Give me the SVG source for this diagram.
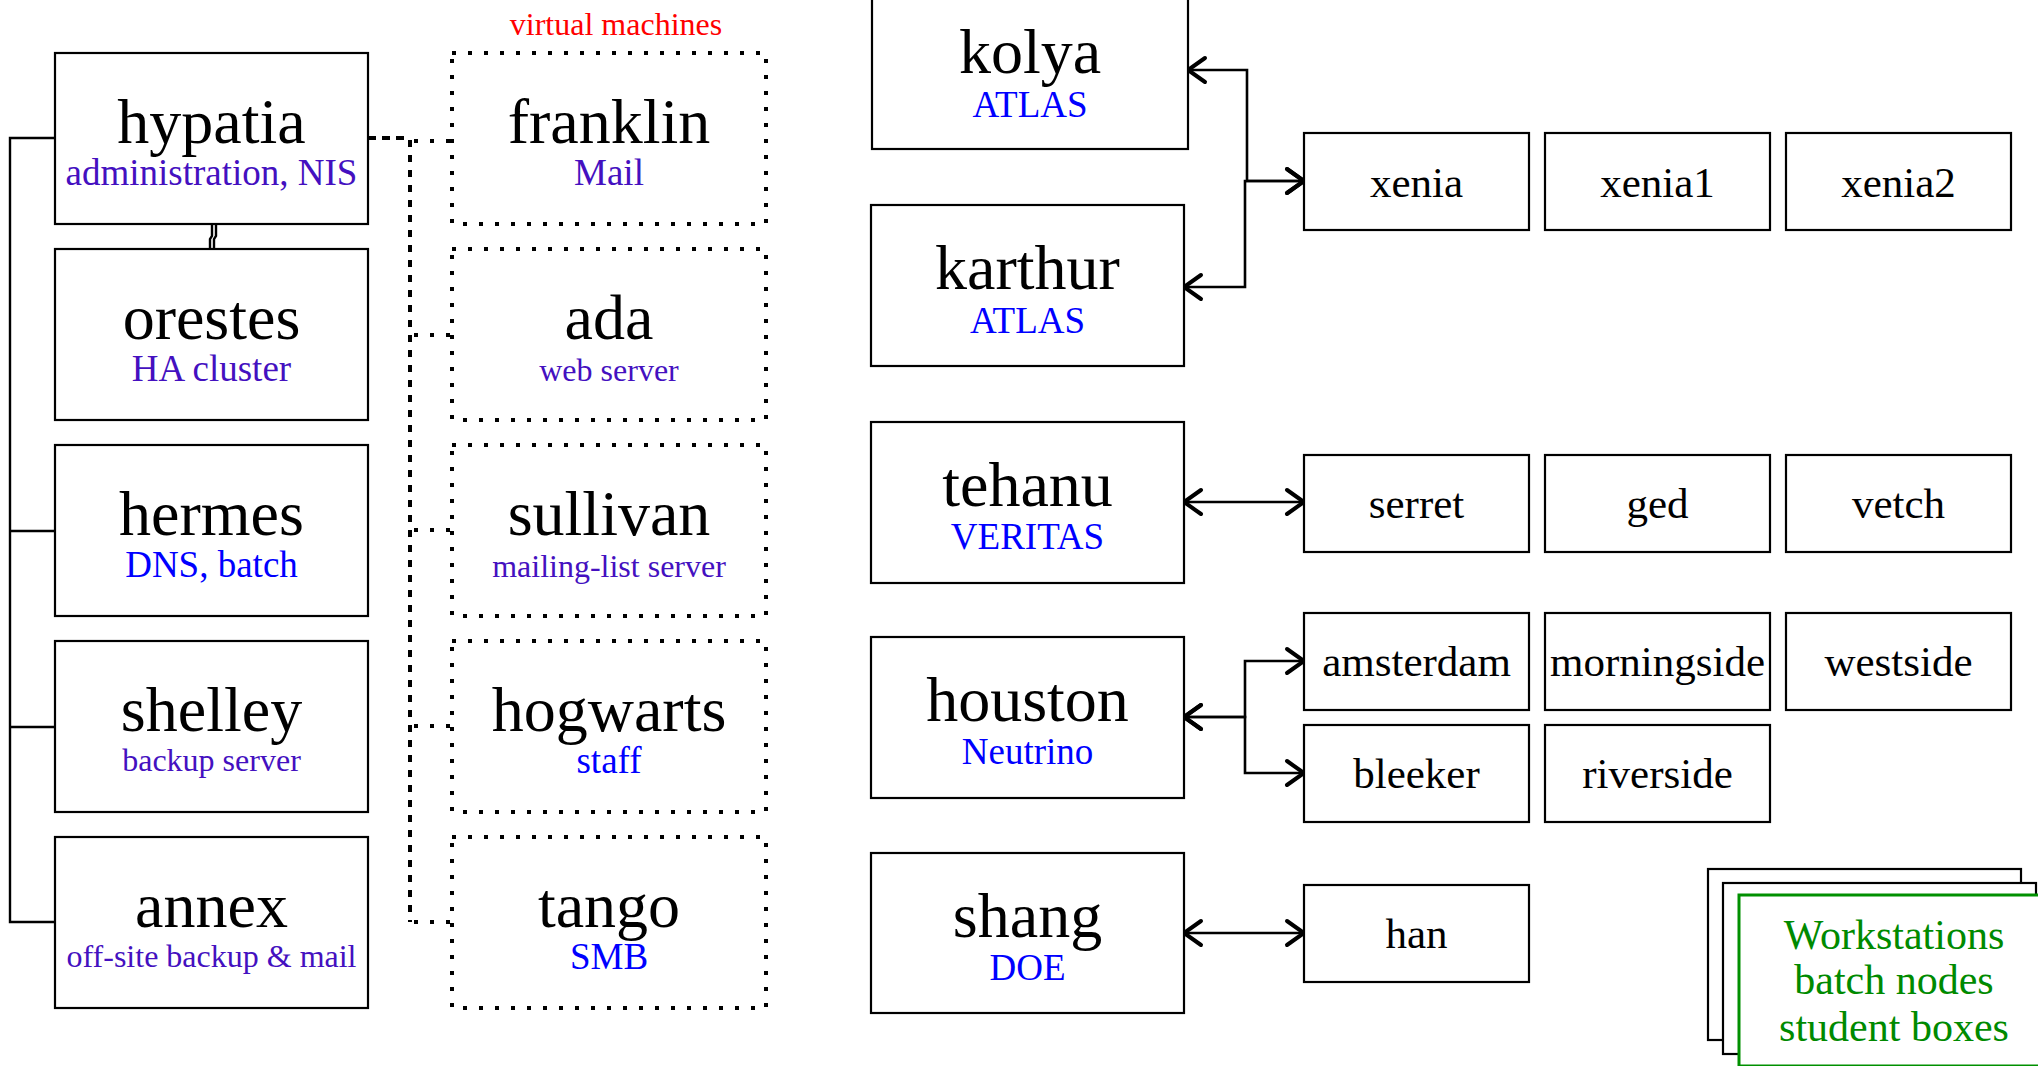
<svg xmlns="http://www.w3.org/2000/svg" width="2038" height="1066" viewBox="0 0 2038 1066">
<style>
text{font-family:"Liberation Serif","Times New Roman",serif;text-anchor:middle}
.box{fill:#fff;stroke:#000;stroke-width:2.2}
.vm{fill:#fff;stroke:#000;stroke-width:4;stroke-dasharray:4 12}
.nm{font-size:64px;fill:#000}
.sm{font-size:43px;fill:#000}
.sb{font-size:37px}
.ss{font-size:32px}
.pu{fill:#4410c0}
.bl{fill:#0000ff}
.gr{font-size:42px;fill:#008a00}
.wire{fill:none;stroke:#000;stroke-width:2.4}
.arr{fill:none;stroke:#000;stroke-width:2.6;marker-start:url(#ah);marker-end:url(#ah)}
.dash{fill:none;stroke:#000;stroke-width:4}
</style>
<defs>
<marker id="ah" markerUnits="userSpaceOnUse" viewBox="-22 -15 24 30" refX="0" refY="0" markerWidth="24" markerHeight="30" orient="auto-start-reverse" overflow="visible">
<path d="M-17,-12 L0,0 L-17,12" fill="none" stroke="#000" stroke-width="4" stroke-linecap="round" stroke-linejoin="miter"/>
</marker>
</defs>
<rect width="2038" height="1066" fill="#fff"/>

<g id="connectors">
<path class="wire" d="M55,138 H10 V922 H55 M10,531 H55 M10,727 H55"/>
<path class="wire" stroke-width="1.6" d="M212,224 V236 L210,239 V250 M216,224 V236 L214,239 V250"/>
<path class="dash" stroke-dasharray="8 6" d="M368,138 H410"/>
<path class="dash" stroke-dasharray="7 8" d="M410,140 V922"/>
<path class="dash" stroke-dasharray="4 12" d="M414,141 H452 M414,335 H452 M414,530 H452 M414,726 H452 M414,922 H452"/>
<path class="arr" d="M1188,70 H1247 V181 H1304"/>
<path class="arr" d="M1184,287 H1245 V181 H1304"/>
<path class="arr" d="M1184,502 H1304"/>
<path class="arr" d="M1184,717 H1245 V661 H1304"/>
<path class="arr" d="M1184,717 H1245 V773 H1304"/>
<path class="arr" d="M1184,933 H1304"/>
</g>

<text x="616" y="35" font-size="32" fill="#ff0000">virtual machines</text>

<g id="hypatia"><rect class="box" x="55" y="53" width="313" height="171"/><text class="nm" x="211.5" y="143">hypatia</text><text class="sb pu" x="211.5" y="185">administration, NIS</text></g>
<g id="orestes"><rect class="box" x="55" y="249" width="313" height="171"/><text class="nm" x="211.5" y="339">orestes</text><text class="sb pu" x="211.5" y="381">HA cluster</text></g>
<g id="hermes"><rect class="box" x="55" y="445" width="313" height="171"/><text class="nm" x="211.5" y="535">hermes</text><text class="sb bl" x="211.5" y="577">DNS, batch</text></g>
<g id="shelley"><rect class="box" x="55" y="641" width="313" height="171"/><text class="nm" x="211.5" y="731">shelley</text><text class="ss pu" x="211.5" y="771">backup server</text></g>
<g id="annex"><rect class="box" x="55" y="837" width="313" height="171"/><text class="nm" x="211.5" y="927">annex</text><text class="ss pu" x="211.5" y="967">off-site backup &amp; mail</text></g>

<g id="franklin"><rect class="vm" x="452" y="53" width="314" height="171"/><text class="nm" x="609" y="143">franklin</text><text class="sb pu" x="609" y="185">Mail</text></g>
<g id="ada"><rect class="vm" x="452" y="249" width="314" height="171"/><text class="nm" x="609" y="339">ada</text><text class="ss pu" x="609" y="381">web server</text></g>
<g id="sullivan"><rect class="vm" x="452" y="445" width="314" height="171"/><text class="nm" x="609" y="535">sullivan</text><text class="ss pu" x="609" y="577">mailing-list server</text></g>
<g id="hogwarts"><rect class="vm" x="452" y="641" width="314" height="171"/><text class="nm" x="609" y="731">hogwarts</text><text class="sb bl" x="609" y="773">staff</text></g>
<g id="tango"><rect class="vm" x="452" y="837" width="314" height="171"/><text class="nm" x="609" y="927">tango</text><text class="sb bl" x="609" y="969">SMB</text></g>

<g id="kolya"><rect class="box" x="872" y="-12" width="316" height="161"/><text class="nm" x="1030" y="73">kolya</text><text class="sb bl" x="1030" y="117">ATLAS</text></g>
<g id="karthur"><rect class="box" x="871" y="205" width="313" height="161"/><text class="nm" x="1027.5" y="289">karthur</text><text class="sb bl" x="1027.5" y="333">ATLAS</text></g>
<g id="tehanu"><rect class="box" x="871" y="422" width="313" height="161"/><text class="nm" x="1027.5" y="506">tehanu</text><text class="sb bl" x="1027.5" y="549">VERITAS</text></g>
<g id="houston"><rect class="box" x="871" y="637" width="313" height="161"/><text class="nm" x="1027.5" y="721">houston</text><text class="sb bl" x="1027.5" y="764">Neutrino</text></g>
<g id="shang"><rect class="box" x="871" y="853" width="313" height="160"/><text class="nm" x="1027.5" y="937">shang</text><text class="sb bl" x="1027.5" y="980">DOE</text></g>

<g id="xenia"><rect class="box" x="1304" y="133" width="225" height="97"/><text class="sm" x="1416.5" y="197">xenia</text></g>
<g id="xenia1"><rect class="box" x="1545" y="133" width="225" height="97"/><text class="sm" x="1657.5" y="197">xenia1</text></g>
<g id="xenia2"><rect class="box" x="1786" y="133" width="225" height="97"/><text class="sm" x="1898.5" y="197">xenia2</text></g>
<g id="serret"><rect class="box" x="1304" y="455" width="225" height="97"/><text class="sm" x="1416.5" y="518">serret</text></g>
<g id="ged"><rect class="box" x="1545" y="455" width="225" height="97"/><text class="sm" x="1657.5" y="518">ged</text></g>
<g id="vetch"><rect class="box" x="1786" y="455" width="225" height="97"/><text class="sm" x="1898.5" y="518">vetch</text></g>
<g id="amsterdam"><rect class="box" x="1304" y="613" width="225" height="97"/><text class="sm" x="1416.5" y="676">amsterdam</text></g>
<g id="morningside"><rect class="box" x="1545" y="613" width="225" height="97"/><text class="sm" x="1657.5" y="676">morningside</text></g>
<g id="westside"><rect class="box" x="1786" y="613" width="225" height="97"/><text class="sm" x="1898.5" y="676">westside</text></g>
<g id="bleeker"><rect class="box" x="1304" y="725" width="225" height="97"/><text class="sm" x="1416.5" y="788">bleeker</text></g>
<g id="riverside"><rect class="box" x="1545" y="725" width="225" height="97"/><text class="sm" x="1657.5" y="788">riverside</text></g>
<g id="han"><rect class="box" x="1304" y="885" width="225" height="97"/><text class="sm" x="1416.5" y="948">han</text></g>

<g id="workstations">
<rect class="box" x="1708" y="869" width="313" height="171"/>
<rect class="box" x="1723" y="883" width="313" height="171"/>
<rect x="1739" y="895" width="313" height="171" fill="#fff" stroke="#009000" stroke-width="3"/>
<text class="gr" x="1894" y="949">Workstations</text>
<text class="gr" x="1894" y="994">batch nodes</text>
<text class="gr" x="1894" y="1041">student boxes</text>
</g>
</svg>
